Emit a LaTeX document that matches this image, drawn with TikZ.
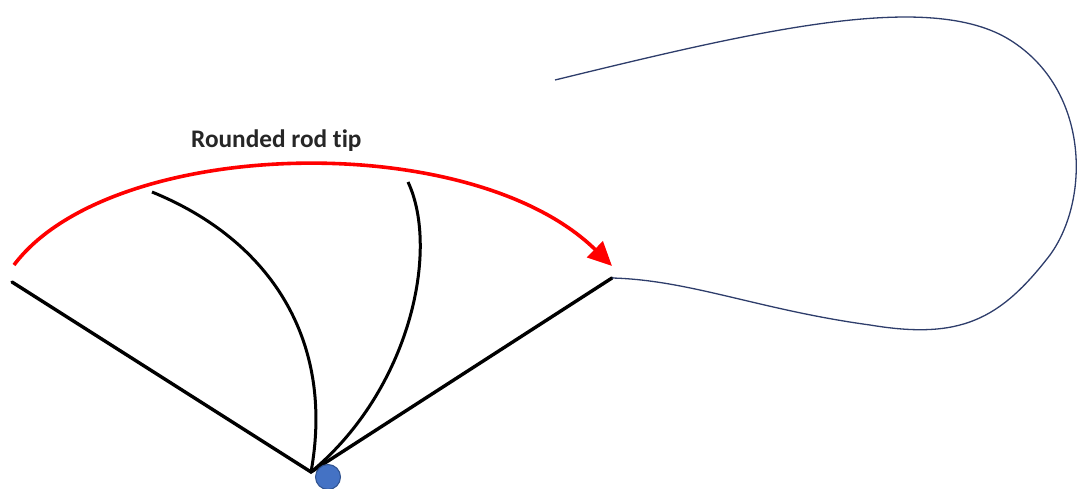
\documentclass[tikz,border=0pt]{standalone}
\usepackage{fontspec}
\setmainfont{Carlito}[Ligatures={NoCommon,NoRare,NoContextual}]
\usetikzlibrary{arrows.meta}
\definecolor{pivotblue}{HTML}{4472C4}
\definecolor{pivotedge}{HTML}{2F528F}
\definecolor{loopblue}{HTML}{2E3D6B}
\tikzset{
  rod/.style={line width=3.4pt, black, line cap=round},
  bentrod/.style={line width=3pt, black},
  swing/.style={line width=3.6pt, red, -{Triangle[length=24pt,width=22pt]}},
  loopline/.style={line width=1.3pt, loopblue},
  pivot/.style={circle, fill=pivotblue, draw=pivotedge, line width=1pt, minimum size=25pt, inner sep=0pt},
  lbl/.style={font=\bfseries\fontsize{25.3}{29}\selectfont, text=black!85, inner sep=0pt}
}
\begin{document}
\begin{tikzpicture}[x=1pt,y=-1pt]
\useasboundingbox (0,0) rectangle (1082,489);
\coordinate (L) at (12,282);
\coordinate (P) at (311,472);
\coordinate (R) at (612,278);
\coordinate (B1) at (152,192);
\coordinate (B2) at (408,182);
\coordinate (S) at (14,265);
\coordinate (T) at (612,266);
\coordinate (Q) at (555,80);
\draw[rod] (L) -- (P) -- (R);
\draw[bentrod] (B1) .. controls (270,240) and (335,340) .. (P);
\draw[bentrod] (B2) .. controls (440,250) and (410,390) .. (P);
\node[pivot] (dot) at (328,477) {};
\draw[swing] (S) .. controls (110,137) and (470,127) .. (T);
\draw[loopline] (Q) .. controls (760,30) and (930,-10) .. (1010,40)
  .. controls (1090,90) and (1090,200) .. (1050,255)
  .. controls (1000,320) and (960,340) .. (870,325)
  .. controls (760,310) and (690,280) .. (R);
\node[lbl, anchor=west] (title) at (191,141) {Rounded rod tip};
\end{tikzpicture}
\end{document}
